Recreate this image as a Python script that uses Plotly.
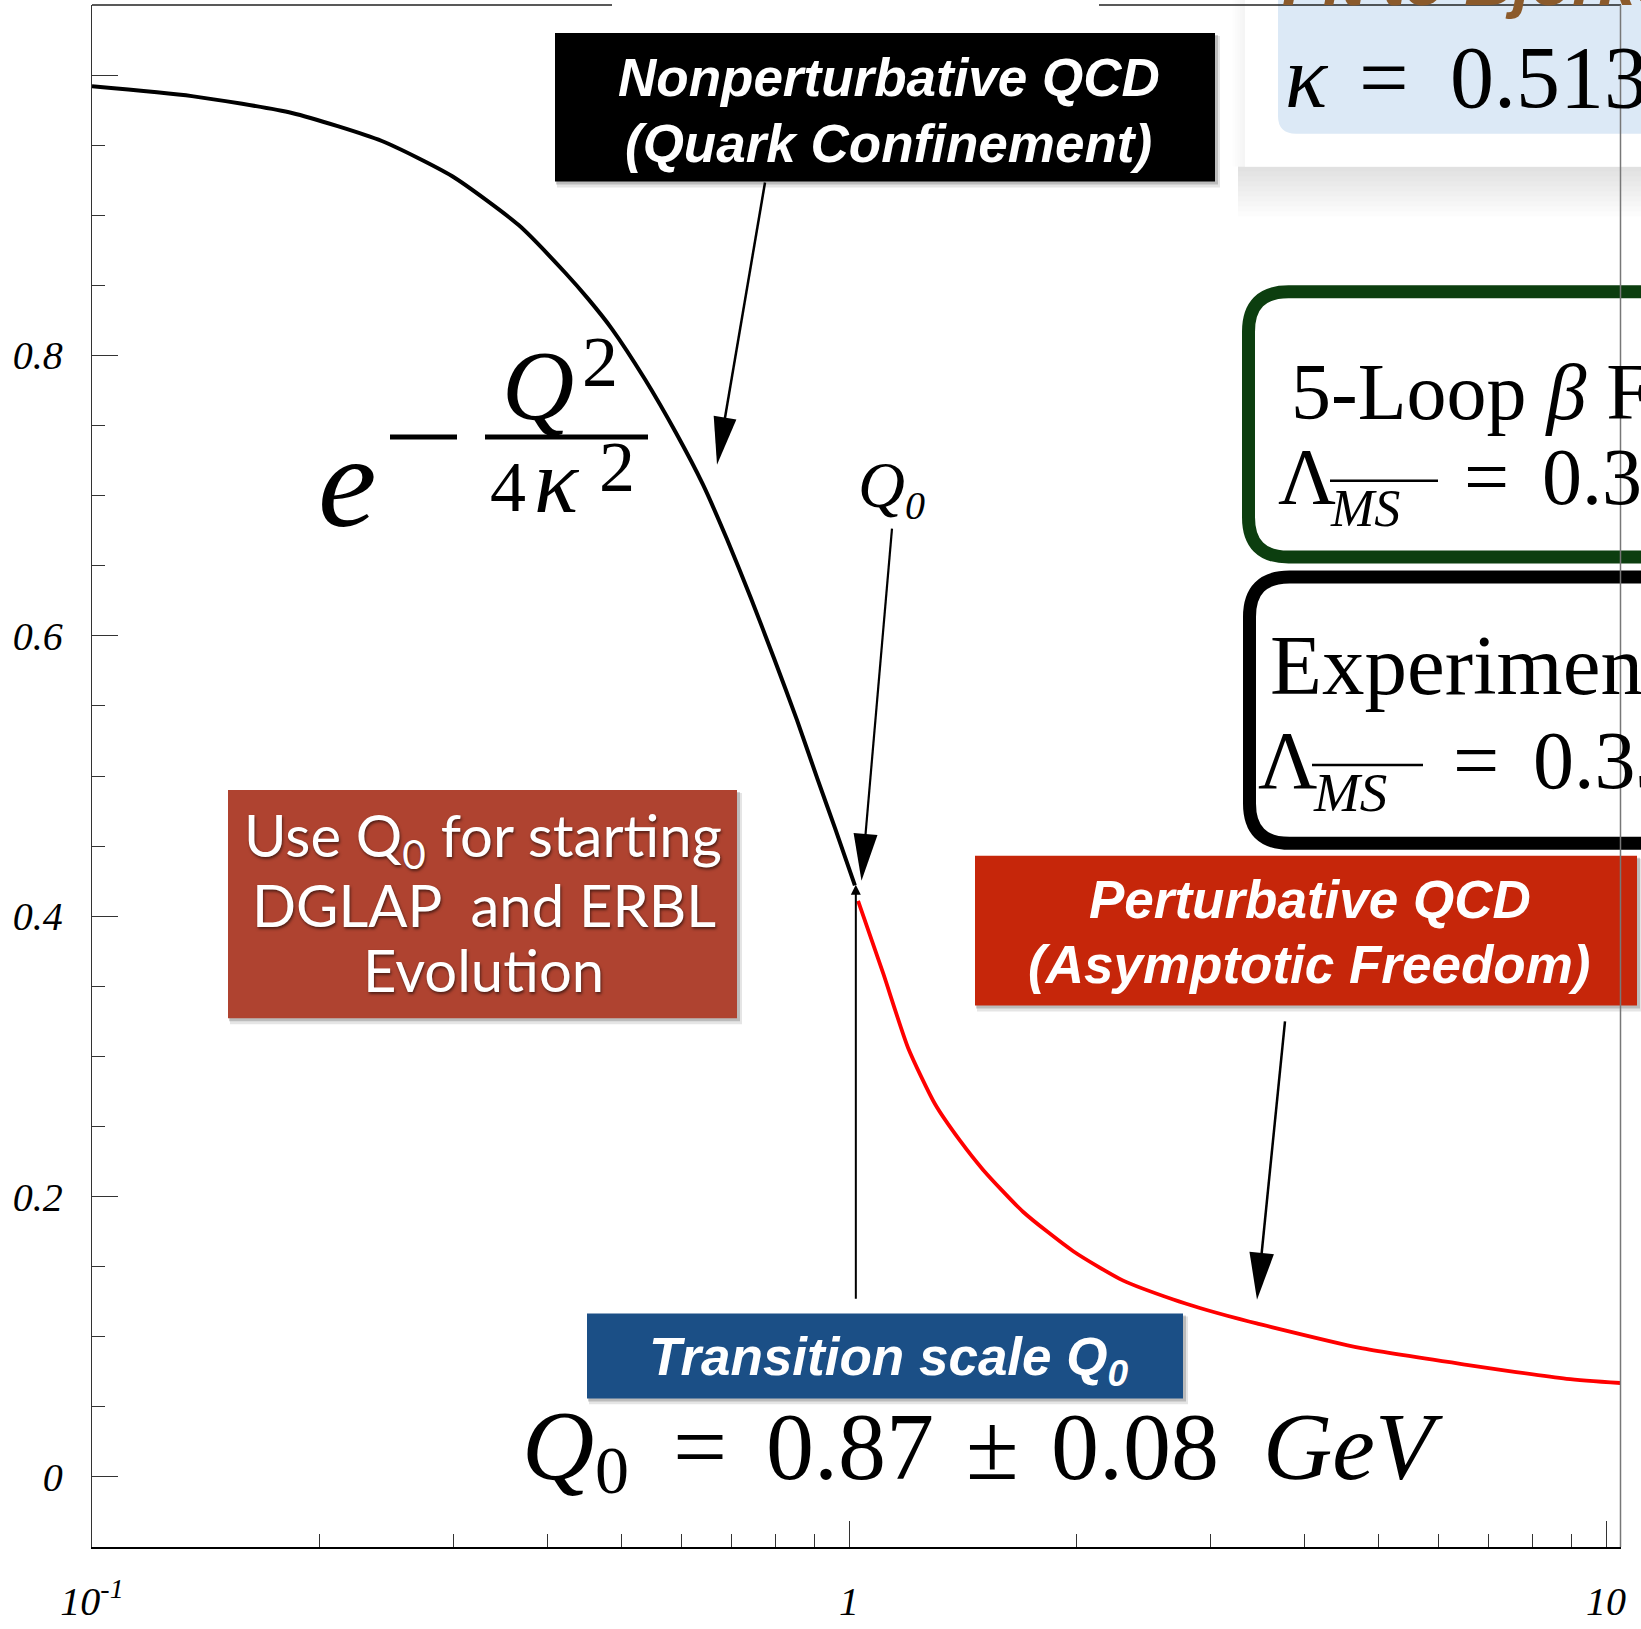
import math
import plotly.graph_objects as go

# ---------------- data: running coupling alpha(Q)/pi versus Q [GeV] ----------------
# non-perturbative (light-front holographic) branch
q_nonpert = [0.100, 0.1355, 0.1837, 0.2415, 0.2988, 0.3661, 0.4218, 0.4529, 0.4861,
             0.5376, 0.5905, 0.6412, 0.6898, 0.7419, 0.7960, 0.8535, 0.9097, 0.9581, 1.018]
alpha_nonpert = [0.992, 0.985, 0.973, 0.953, 0.928, 0.893, 0.859, 0.840, 0.819,
                 0.783, 0.745, 0.708, 0.669, 0.627, 0.584, 0.540, 0.497, 0.463, 0.422]

# perturbative branch
q_pert = [1.028, 1.110, 1.197, 1.299, 1.401, 1.504, 1.699, 1.978, 2.303, 2.682,
          2.907, 3.285, 3.455, 4.731, 6.545, 8.872, 10.45]
alpha_pert = [0.411, 0.359, 0.306, 0.266, 0.240, 0.219, 0.189, 0.161, 0.140, 0.1265,
              0.1205, 0.1125, 0.1095, 0.092, 0.080, 0.070, 0.067]

# transition scale marker on the plot
q_transition = 1.021
transition_line = [0.126, 0.4225]

# axis ticks
x_major = [0.1, 1, 10]
x_major_text = ["10<sup>-1</sup>", "1", "10"]
x_minor = [0.2, 0.3, 0.4, 0.5, 0.6, 0.7, 0.8, 0.9, 2, 3, 4, 5, 6, 7, 8, 9]
y_major = [0, 0.2, 0.4, 0.6, 0.8, 1.0]
y_major_text = ["0", "0.2", "0.4", "0.6", "0.8", ""]
y_minor = [0.05, 0.10, 0.15, 0.25, 0.30, 0.35, 0.45, 0.50, 0.55,
           0.65, 0.70, 0.75, 0.85, 0.90, 0.95]

# ---------------- page geometry ----------------
FIG_W, FIG_H = 1641, 1629
PL, PR, PT, PB = 92, 1621, 5, 1551


def px(x):
    return (x - PL) / (PR - PL)


def py(y):
    return (PB - y) / (PB - PT)


SERIF = "Liberation Serif"
SANS = "Liberation Sans"
GILL = "Lato"
R_SERIF, R_SANS, R_LATO = 0.3375, 0.3465, 0.387

shapes = []
annotations = []


def rect(x0, y0, x1, y1, fill, line_color=None, line_width=0):
    shapes.append(dict(type="rect", xref="paper", yref="paper",
                       x0=px(x0), x1=px(x1), y0=py(y1), y1=py(y0),
                       fillcolor=fill, line=dict(width=line_width, color=line_color or fill)))


def shadowed_box(x0, y0, x1, y1, fill):
    rect(x0 + 2, y0 + 3, x1 + 5, y1 + 6, "rgba(0,0,0,0.10)")
    rect(x0 + 1, y0 + 2, x1 + 3, y1 + 3, "rgba(0,0,0,0.18)")
    rect(x0, y0, x1, y1, fill)


def seg(x0, y0, x1, y1, color="black", width=2):
    shapes.append(dict(type="line", xref="paper", yref="paper",
                       x0=px(x0), y0=py(y0), x1=px(x1), y1=py(y1),
                       line=dict(color=color, width=width)))


def arrow(xt, yt, xh, yh, head_len, half_w, width, color="black"):
    dx, dy = xh - xt, yh - yt
    n = math.hypot(dx, dy)
    ux, uy = dx / n, dy / n
    bx, by = xh - ux * (head_len - 2), yh - uy * (head_len - 2)
    seg(xt, yt, bx, by, color, width)
    bx, by = xh - ux * head_len, yh - uy * head_len
    nx, ny = -uy, ux
    path = (f"M{px(xh)},{py(yh)} L{px(bx + nx * half_w)},{py(by + ny * half_w)} "
            f"L{px(bx - nx * half_w)},{py(by - ny * half_w)} Z")
    shapes.append(dict(type="path", xref="paper", yref="paper", path=path,
                       fillcolor=color, line=dict(width=0, color=color)))


def rounded_box(x0, y0, x1, y1, r, color, width):
    p = (f"M{px(x0 + r)},{py(y0)} L{px(x1 - r)},{py(y0)} "
         f"Q{px(x1)},{py(y0)} {px(x1)},{py(y0 + r)} L{px(x1)},{py(y1 - r)} "
         f"Q{px(x1)},{py(y1)} {px(x1 - r)},{py(y1)} L{px(x0 + r)},{py(y1)} "
         f"Q{px(x0)},{py(y1)} {px(x0)},{py(y1 - r)} L{px(x0)},{py(y0 + r)} "
         f"Q{px(x0)},{py(y0)} {px(x0 + r)},{py(y0)} Z")
    shapes.append(dict(type="path", xref="paper", yref="paper", path=p,
                       fillcolor="white", line=dict(width=width, color=color)))


def text(s, x, baseline, size, family, ratio, color="black", weight="normal",
         style="normal", anchor="center", shadow=None):
    font = dict(family=family, size=size, color=color, weight=weight, style=style)
    if shadow:
        font["shadow"] = shadow
    annotations.append(dict(x=px(x), y=py(baseline - ratio * size), xref="paper", yref="paper",
                            text=s, showarrow=False, xanchor=anchor, yanchor="middle", font=font))


# ---------------- top-right fit panel ----------------
for i in range(10):
    rect(1238, 167, 1720, 167 + (10 - i) * 5, "rgba(0,0,0,0.011)")
for i in range(5):
    rect(1245 - (5 - i) * 2.5, -10, 1245, 167, "rgba(0,0,0,0.007)")
rect(1245, -10, 1720, 167, "white")
r = 18
shapes.append(dict(type="path", xref="paper", yref="paper",
                   path=(f"M{px(1278)},{py(-10)} L{px(1278)},{py(134 - r)} "
                         f"Q{px(1278)},{py(134)} {px(1278 + r)},{py(134)} "
                         f"L{px(1720)},{py(134)} L{px(1720)},{py(-10)} Z"),
                   fillcolor="#DCE9F6", line=dict(width=0, color="#DCE9F6")))
text("Fit to Bjorken Sum Rule", 1280, 5, 67, SANS, R_SANS, color="#8B5A2B",
     weight="bold", style="italic", anchor="left")
text("κ", 1307, 107, 88, SERIF, R_SERIF, style="italic")
text("=", 1384, 107, 88, SERIF, R_SERIF)
text("0.513", 1448, 107, 88, SERIF, R_SERIF, anchor="left")

# ---------------- Lambda boxes ----------------
rounded_box(1248.5, 292.5, 1760, 558.5, 40, "#0C3E0F", 13)
text("5-Loop <i>β</i> Function", 1289, 420, 80, SERIF, R_SERIF, anchor="left")
text("Λ", 1276, 505, 80, SERIF, R_SERIF, anchor="left")
text("MS", 1328, 527, 52, SERIF, R_SERIF, style="italic", anchor="left")
seg(1330, 482, 1438, 482, "black", 2.5)
text("=", 1486, 505, 80, SERIF, R_SERIF)
text("0.339 GeV", 1540, 505, 80, SERIF, R_SERIF, anchor="left")

rounded_box(1249.5, 578.5, 1760, 845.5, 40, "black", 13)
text("Experiment", 1268, 695, 85, SERIF, R_SERIF, anchor="left")
text("Λ", 1256, 790, 82, SERIF, R_SERIF, anchor="left")
text("MS", 1311, 813, 55, SERIF, R_SERIF, style="italic", anchor="left")
seg(1312, 767, 1423, 767, "black", 2.5)
text("=", 1476, 790, 82, SERIF, R_SERIF)
text("0.332 GeV", 1531, 790, 82, SERIF, R_SERIF, anchor="left")

# ---------------- labelled boxes ----------------
shadowed_box(555, 33, 1215, 182, "black")
text("Nonperturbative QCD", 889, 96.5, 53, SANS, R_SANS, color="white", weight="bold", style="italic")
text("(Quark Confinement)", 888, 162.5, 53, SANS, R_SANS, color="white", weight="bold", style="italic")

shadowed_box(975, 858, 1637, 1008, "#C6260A")
text("Perturbative QCD", 1310, 920, 53, SANS, R_SANS, color="white", weight="bold", style="italic")
text("(Asymptotic Freedom)", 1309, 985, 53, SANS, R_SANS, color="white", weight="bold", style="italic")

shadowed_box(587, 1317, 1183, 1402, "#1B4F86")
text("Transition scale Q<sub>0</sub>", 889, 1382, 53, SANS, R_SANS, color="white",
     weight="bold", style="italic")

shadowed_box(228, 792, 737, 1021, "#AF4330")
sh = "1px 2px 3px rgba(0,0,0,0.55)"
text("Use Q<sub>0</sub> for starting", 483, 864, 58, GILL, R_LATO, color="white", shadow=sh)
text("DGLAP\u00a0 and ERBL", 484, 929, 58, GILL, R_LATO, color="white", shadow=sh)
text("Evolution", 483, 994, 58, GILL, R_LATO, color="white", shadow=sh)

# ---------------- formula exp(-Q^2 / 4 kappa^2) ----------------
text("e", 347, 527, 132, SERIF, R_SERIF, style="italic")
seg(390, 438, 457, 438, "black", 5)
seg(485, 438, 648, 438, "black", 5)
text("Q", 538, 420, 100, SERIF, R_SERIF, style="italic")
text("2", 600, 387, 72, SERIF, R_SERIF)
text("4", 508, 513, 72, SERIF, R_SERIF)
text("κ", 557, 513, 92, SERIF, R_SERIF, style="italic")
text("2", 617, 492, 72, SERIF, R_SERIF)

# ---------------- Q0 labels ----------------
text("Q", 881, 508, 65, SERIF, R_SERIF, style="italic")
text("0", 915, 520, 40, SERIF, R_SERIF, style="italic")

text("Q", 558, 1483, 100, SERIF, R_SERIF, style="italic")
text("0", 612, 1497, 68, SERIF, R_SERIF)
text("=", 700, 1483, 96, SERIF, R_SERIF)
text("0.87", 850, 1483, 96, SERIF, R_SERIF)
text("±", 992, 1483, 96, SERIF, R_SERIF)
text("0.08", 1135, 1483, 96, SERIF, R_SERIF)
text("GeV", 1353, 1483, 96, SERIF, R_SERIF, style="italic")

# ---------------- pointer arrows ----------------
arrow(765, 183, 717, 466, 48, 11.5, 2.5)
arrow(892, 530, 861.5, 883, 47, 12, 2.2)
arrow(1285, 1024, 1257, 1303, 47, 12.3, 2.5)

# ---------------- frame lines on top / right ----------------
seg(PL, PT, 612, PT, "#222", 1.3)
seg(1099, PT, PR, PT, "#222", 1.3)
seg(PR - 0.5, PT, PR - 0.5, PB, "#777", 1.5)

# ---------------- figure ----------------
fig = go.Figure()
fig.add_trace(go.Scatter(x=q_nonpert, y=alpha_nonpert, mode="lines",
                         line=dict(color="black", width=4, shape="spline", smoothing=0.6),
                         hoverinfo="skip"))
fig.add_trace(go.Scatter(x=q_pert, y=alpha_pert, mode="lines",
                         line=dict(color="#FF0000", width=3.8, shape="spline", smoothing=0.6),
                         hoverinfo="skip"))

# vertical marker at the transition scale
annotations.append(dict(x=math.log10(q_transition), y=transition_line[1],
                        ax=math.log10(q_transition), ay=transition_line[0],
                        xref="x", yref="y", axref="x", ayref="y", text="",
                        showarrow=True, arrowhead=2, arrowsize=1, arrowwidth=2,
                        arrowcolor="black"))

tick_font = dict(family=SERIF, size=40, color="black", style="italic")
fig.update_layout(
    width=FIG_W, height=FIG_H,
    margin=dict(l=PL, r=FIG_W - PR, t=PT, b=FIG_H - PB, pad=0),
    paper_bgcolor="white", plot_bgcolor="white",
    showlegend=False,
    xaxis=dict(type="log", range=[-1, -1 + (PR - PL) / 757.0],
               showline=True, linecolor="black", linewidth=2, mirror=False,
               showgrid=False, zeroline=False,
               ticks="inside", ticklen=26, tickwidth=1.3, tickcolor="#333",
               tickmode="array", tickvals=x_major, ticktext=x_major_text,
               tickfont=tick_font, ticklabelstandoff=18,
               minor=dict(ticks="inside", ticklen=13, tickwidth=1.3, tickcolor="#333",
                          tickmode="array", tickvals=x_minor, showgrid=False)),
    yaxis=dict(range=[-0.05, 1.05],
               showline=True, linecolor="#333", linewidth=1.3, mirror=False,
               showgrid=False, zeroline=False,
               ticks="inside", ticklen=26, tickwidth=1.3, tickcolor="#333",
               tickmode="array", tickvals=y_major, ticktext=y_major_text,
               tickfont=tick_font, ticklabelstandoff=20,
               minor=dict(ticks="inside", ticklen=13, tickwidth=1.3, tickcolor="#333",
                          tickmode="array", tickvals=y_minor, showgrid=False)),
    shapes=shapes,
    annotations=annotations,
)

fig.write_html("out.html")
